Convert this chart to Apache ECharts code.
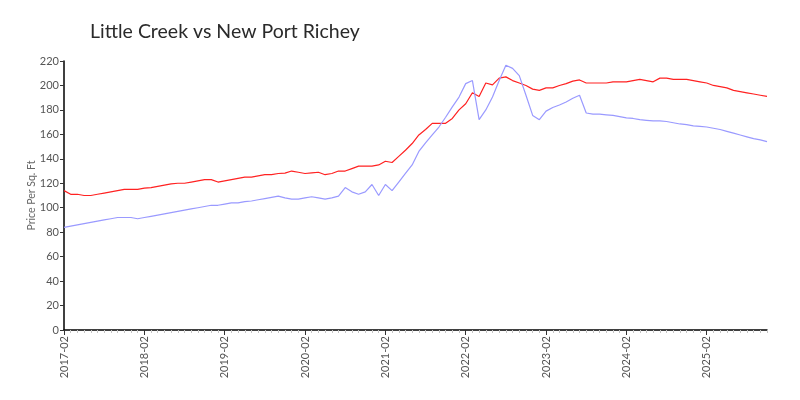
<!DOCTYPE html>
<html>
<head>
<meta charset="utf-8">
<script src="https://cdn.jsdelivr.net/npm/echarts@6/dist/echarts.min.js"></script>
<style>
  html, body { margin: 0; padding: 0; background: #fff; }
  #chart { width: 800px; height: 400px; }
</style>
</head>
<body>
<div id="chart"></div>
<script>
// monthly categories 2017-02 .. 2025-11
const months = []
for (let y = 2017; y <= 2025; y++) {
  for (let m = 1; m <= 12; m++) {
    if (y === 2017 && m < 2) continue
    if (y === 2025 && m > 11) continue
    months.push(y + '-' + String(m).padStart(2, '0'))
  }
}

const littleCreek = [
  114, 111, 111, 110, 110, 111, 112, 113, 114, 115, 115, 115,
  116, 116.5, 117.5, 118.5, 119.5, 120, 120, 121, 122, 123, 123, 121,
  122, 123, 124, 125, 125, 126, 127, 127, 128, 128.3, 130, 129,
  128, 128.5, 129, 127, 128, 130, 130, 132, 134, 134, 134, 135,
  138, 137, 142, 147, 152.5, 159.5, 164, 169, 169, 169, 173, 180,
  185, 194, 191, 202, 200.5, 206, 207, 204, 202, 200, 197, 196,
  198, 198, 200, 201.5, 203.5, 204.5, 202, 202, 202, 202, 203, 203,
  203, 204, 205, 204, 203, 206, 206, 205, 205, 205, 204, 203,
  202, 200, 199, 198, 196, 195, 194, 193, 192, 191
]

const newPortRichey = [
  84, 85, 86, 87, 88, 89, 90, 91, 92, 92, 92, 91,
  92, 93, 94, 95, 96, 97, 98, 99, 100, 101, 102, 102,
  103, 104, 104, 105, 105.5, 106.5, 107.5, 108.5, 109.5, 108, 107, 107,
  108, 109, 108, 107, 108, 109.5, 116.5, 113, 111, 113, 119, 110,
  119, 114, 121, 128, 135, 146, 153, 159.5, 166, 174, 182.5, 190.5,
  201.5, 204, 172, 180, 190.5, 204, 216.5, 214, 208, 192, 175.5, 172,
  179, 182, 184, 186.5, 189.5, 192, 177.5, 176.5, 176.5, 176, 175.5, 174.5,
  173.5, 173, 172, 171.5, 171, 171, 170.5, 169.5, 168.5, 168, 167, 166.5,
  166, 165, 164, 162.5, 161, 159.5, 158, 156.5, 155.5, 154
]

const yTicks = { min: 0, max: 220, interval: 20 }

const chart = echarts.init(document.getElementById('chart'))

chart.setOption({
  animation: false,
  textStyle: { fontFamily: 'Lato' },
  title: {
    text: 'Little Creek vs New Port Richey',
    left: 85,
    top: 17,
    textStyle: { fontFamily: 'Lato', fontSize: 19.5, fontWeight: 'normal', color: '#2a2a2a' }
  },
  grid: { left: 64, right: 33, top: 61, bottom: 70 },
  xAxis: [{
    // monthly minor ticks
    type: 'category',
    data: months,
    boundaryGap: false,
    position: 'bottom',
    axisLine: { show: false },
    axisLabel: { show: false },
    axisTick: { interval: 0, length: 3, lineStyle: { color: '#c4c4c4' } }
  }, {
    type: 'category',
    data: months,
    boundaryGap: false,
    position: 'bottom',
    axisLine: { lineStyle: { color: '#000', width: 1.5 } },
    axisTick: { interval: 11, length: 5, lineStyle: { color: '#333' } },
    axisLabel: { interval: 11, rotate: 90, color: '#555', fontSize: 11, margin: 6 }
  }],
  yAxis: {
    type: 'value',
    min: yTicks.min,
    max: yTicks.max,
    interval: yTicks.interval,
    name: 'Price Per Sq. Ft',
    nameLocation: 'middle',
    nameGap: 27,
    nameMoveOverlap: false,
    nameTextStyle: { color: '#666', fontSize: 10.5 },
    axisLine: { show: true, lineStyle: { color: '#000', width: 1.5 } },
    axisTick: { show: true, length: 4, lineStyle: { color: '#333' } },
    axisLabel: { color: '#555', fontSize: 11, margin: 5 },
    splitLine: { show: false }
  },
  series: [{
    name: 'Little Creek',
    type: 'line',
    xAxisIndex: 1,
    data: littleCreek,
    showSymbol: false,
    lineStyle: { color: '#ff2222', width: 1.2 },
    itemStyle: { color: '#ff2222' }
  }, {
    name: 'New Port Richey',
    type: 'line',
    xAxisIndex: 1,
    data: newPortRichey,
    showSymbol: false,
    lineStyle: { color: '#9a9aff', width: 1.2 },
    itemStyle: { color: '#9a9aff' }
  }]
})
</script>
</body>
</html>
